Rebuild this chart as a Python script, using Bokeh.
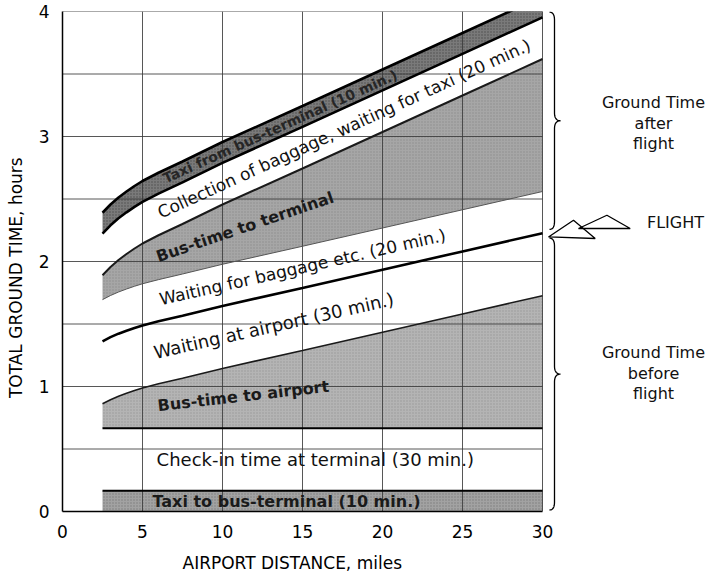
import numpy as np
from bokeh.plotting import figure
from bokeh.models import FixedTicker
from bokeh.core.properties import value
from bokeh.embed import file_html
from bokeh.resources import INLINE

# ---------------- data ----------------
distance = [2.5, 3.0, 3.5, 4.0, 4.5, 5.0, 6.0, 7.5, 10.0, 15.0, 20.0, 25.0, 30.0]        # miles
bus_time = [0.195, 0.228, 0.256, 0.280, 0.302, 0.322, 0.355, 0.400, 0.478, 0.622,
            0.768, 0.914, 1.060]                                                        # hours
taxi_to_terminal = 10 / 60      # hours
checkin_time = 30 / 60
waiting_airport = 30 / 60
waiting_baggage = 20 / 60
collection_taxi = 20 / 60
taxi_from_terminal = 10 / 60

x_ticks = [0, 5, 10, 15, 20, 25, 30]
y_ticks = [0, 1, 2, 3, 4]
x_grid = [5, 10, 15, 20, 25, 30]
y_grid = [0.5, 1.0, 1.5, 2.0, 2.5, 3.0, 3.5, 4.0]

band_labels = [
    "Taxi to bus-terminal (10 min.)",
    "Check-in time at terminal (30 min.)",
    "Bus-time to airport",
    "Waiting at airport (30 min.)",
    "Waiting for baggage etc. (20 min.)",
    "Bus-time to terminal",
    "Collection of baggage, waiting for taxi (20 min.)",
    "Taxi from bus-terminal (10 min.)",
]
side_labels = ["Ground Time", "after", "flight", "FLIGHT", "Ground Time", "before", "flight"]
x_title = "AIRPORT   DISTANCE,   miles"
y_title = "TOTAL   GROUND   TIME,   hours"

# ---------------- derived boundaries ----------------
xs = np.array(distance)
bus = np.array(bus_time)
b0 = np.zeros_like(xs)
b1 = b0 + taxi_to_terminal
b2 = b1 + checkin_time
b3 = b2 + bus
b4 = b3 + waiting_airport          # flight
b5 = b4 + waiting_baggage
b6 = b5 + bus
b7 = b6 + collection_taxi
b8 = b7 + taxi_from_terminal
bounds = [b0, b1, b2, b3, b4, b5, b6, b7, b8]

W, H = 714, 582
TOP, LEFT, BOTTOM = 11, 62, 71
px_x = 16.0
XMAX = (W - LEFT) / px_x
FONT = "DejaVu Sans"

p = figure(width=W, height=H, x_range=(0, XMAX), y_range=(0, 4),
           output_backend="svg", toolbar_location=None,
           min_border_left=LEFT, min_border_right=0, min_border_top=TOP,
           min_border_bottom=BOTTOM, title_location="below")
p.outline_line_color = None
p.grid.visible = False
p.background_fill_color = "white"
p.border_fill_color = "white"

frame_h = H - TOP - BOTTOM
px_y = frame_h / 4.0

# ---------------- axes ----------------
p.xaxis.ticker = FixedTicker(ticks=x_ticks)
p.xaxis.bounds = (0, 30)
p.yaxis.ticker = FixedTicker(ticks=y_ticks)
for ax in (p.xaxis[0], p.yaxis[0]):
    ax.axis_line_color = "black"
    ax.axis_line_width = 1.5
    ax.major_tick_out = 0
    ax.major_tick_in = 0
    ax.minor_tick_out = 0
    ax.minor_tick_in = 0
    ax.major_label_text_font = FONT
    ax.major_label_text_font_size = "17px"
    ax.major_label_text_color = "black"
    ax.axis_label_text_font = FONT
    ax.axis_label_text_font_size = "17px"
    ax.axis_label_text_font_style = "normal"
    ax.axis_label_text_color = "black"
p.yaxis.axis_label = y_title
p.xaxis.major_label_standoff = 13
p.yaxis.major_label_standoff = 13
p.yaxis.axis_label_standoff = 10

# x title: the frame runs past 30 miles, so the title is placed as a
# left-aligned "below" title, shifted to sit under the 0-30 mile span
p.title.text = x_title
p.title.align = "left"
p.title.offset = 120
p.title.standoff = 20
p.title.text_font = FONT
p.title.text_font_size = "17px"
p.title.text_font_style = "normal"
p.title.text_color = "black"

# ---------------- filled bands ----------------
def band(lo, hi, color, hatch=None, hcolor="#333333", halpha=0.35):
    kw = dict(fill_color=color)
    if hatch:
        kw.update(hatch_pattern=hatch, hatch_color=hcolor, hatch_alpha=halpha,
                  hatch_scale=3, hatch_weight=1)
    p.varea(x=xs, y1=lo, y2=hi, **kw)

band(b0, b1, "#a2a2a2", ".")
band(b2, b3, "#b4b4b4", ".", halpha=0.2)
band(b5, b6, "#a6a6a6", ".", halpha=0.2)
band(b7, b8, "#7a7a7a", ".", hcolor="#111111", halpha=0.45)

# ---------------- grid (drawn over the fills) ----------------
p.segment(x0=x_grid, y0=[0] * len(x_grid), x1=x_grid, y1=[4] * len(x_grid),
          line_color="#3a3a3a", line_width=1, line_alpha=0.85)
p.segment(x0=[0] * len(y_grid), y0=y_grid, x1=[30] * len(y_grid), y1=y_grid,
          line_color="#3a3a3a", line_width=1, line_alpha=0.85)

# ---------------- boundary lines ----------------
line_styles = {1: ("black", 2.0), 2: ("black", 2.0), 3: ("#1a1a1a", 1.6),
               4: ("black", 2.6), 5: ("#555555", 1.0), 6: ("#1a1a1a", 2.0),
               7: ("black", 2.6), 8: ("black", 2.6)}
for i, (c, w) in line_styles.items():
    p.line(xs, bounds[i], line_color=c, line_width=w)

# ---------------- band labels ----------------
def place(idx_lo, idx_hi, xc, dy=0.0):
    mid = (bounds[idx_lo] + bounds[idx_hi]) / 2
    y = float(np.interp(xc, xs, mid)) + dy
    s = (np.interp(xc + 2, xs, mid) - np.interp(xc - 2, xs, mid)) / 4
    ang = float(np.degrees(np.arctan(s * px_y / px_x)))
    return xc, y, ang

label_specs = [
    # (band lo, band hi, x centre, font size, style, colour)
    (0, 1, 14.0, "16px", "bold", "#1a1a1a"),
    (1, 2, 15.8, "18px", "normal", "#111111"),
    (2, 3, 11.3, "16px", "bold", "#1a1a1a"),
    (3, 4, 13.2, "18px", "normal", "#111111"),
    (4, 5, 15.0, "17px", "normal", "#111111"),
    (5, 6, 11.4, "16px", "bold", "#1a1a1a"),
    (6, 7, 17.6, "17px", "normal", "#111111"),
    (7, 8, 13.6, "14px", "bold", "#262626"),
]
for (lo, hi, xc, fs, st, col), txt in zip(label_specs, band_labels):
    x, y, a = place(lo, hi, xc)
    p.text(x=[x], y=[y], text=[txt], angle=[a], angle_units="deg",
           text_font=value(FONT), text_font_size=fs, text_font_style=st,
           text_color=col, text_align="center", text_baseline="middle")

# ---------------- right-hand annotations ----------------
def brace(x0, y_top, y_bot, w_hook, w_tip, h):
    t = np.linspace(0, 1, 14)
    def quad(a, b, c):
        return ((1 - t) ** 2 * a[0] + 2 * (1 - t) * t * b[0] + t ** 2 * c[0],
                (1 - t) ** 2 * a[1] + 2 * (1 - t) * t * b[1] + t ** 2 * c[1])
    ym = (y_top + y_bot) / 2
    parts = [quad((x0 - w_hook, y_top), (x0, y_top), (x0, y_top - h)),
             quad((x0, ym + h), (x0, ym), (x0 + w_tip, ym)),
             quad((x0 + w_tip, ym), (x0, ym), (x0, ym - h)),
             quad((x0, y_bot + h), (x0, y_bot), (x0 - w_hook, y_bot))]
    bx = np.concatenate([q[0] for q in parts])
    by = np.concatenate([q[1] for q in parts])
    return list(bx), list(by)

x_brace = 30 + 12 / px_x
flight_end = float(b4[-1])
bx1, by1 = brace(x_brace, 3.995, flight_end + 0.03, 5 / px_x, 6 / px_x, 8 / px_y)
bx2, by2 = brace(x_brace, flight_end - 0.04, 0.012, 5 / px_x, 6 / px_x, 8 / px_y)
p.multi_line(xs=[bx1, bx2], ys=[by1, by2], line_color="black", line_width=1.3)

# lightning-like arrow pointing at the flight line
tip_x, tip_y = 30 + 6 / px_x, flight_end - 0.03
def off(dx, dy):
    return tip_x + dx / px_x, tip_y - dy / px_y
tri_a = [off(0, 0), off(25, -16.7), off(46.7, 1.6)]
tri_b = [off(30, -8.4), off(58.4, -21.7), off(81.7, -8.4)]
p.patches(xs=[[q[0] for q in tri_b], [q[0] for q in tri_a]],
          ys=[[q[1] for q in tri_b], [q[1] for q in tri_a]],
          fill_color=None, line_color="black", line_width=1.3)

side_px = [(653, 102), (653, 123), (653, 143), (675, 222),
           (653, 352), (653, 373), (653, 393)]
side_x = [(px - LEFT) / px_x for px, _ in side_px]
side_y = [4 - (py - TOP) / px_y for _, py in side_px]
p.text(x=side_x, y=side_y, text=side_labels, text_font=value(FONT),
       text_font_size="16px", text_color="#111111",
       text_align="center", text_baseline="middle")

open("out.html", "w").write(file_html(p, INLINE))
